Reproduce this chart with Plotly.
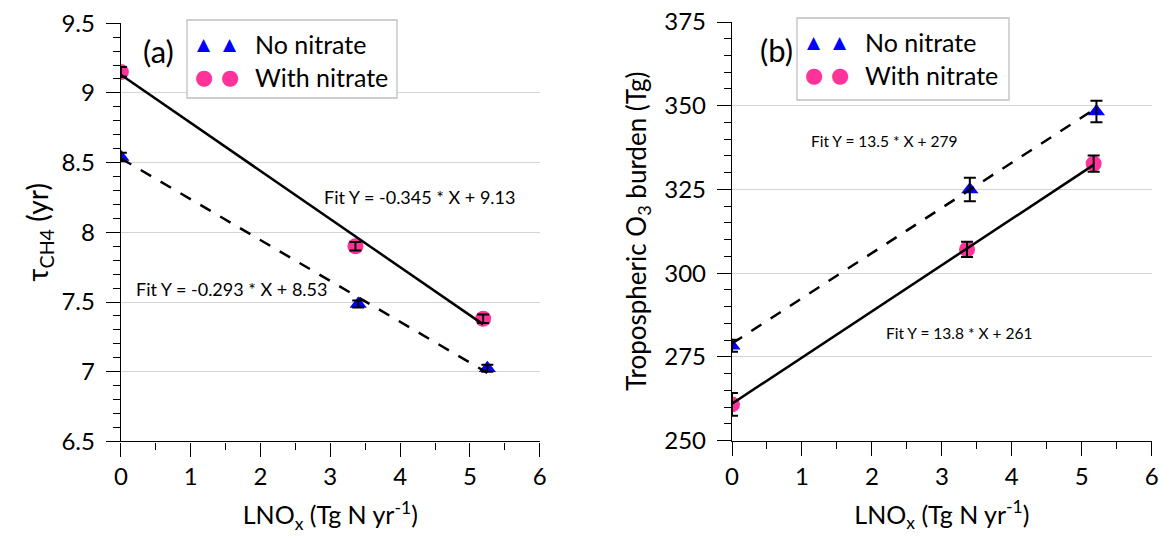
import plotly.graph_objects as go

# ---------------- data ----------------
# Panel (a): methane lifetime (yr)
x_no_a = [0.0, 3.40, 5.25]
y_no_a = [8.54, 7.486, 7.024]
err_no_a = [0.03, 0.025, 0.025]
x_with_a = [0.0, 3.36, 5.19]
y_with_a = [9.15, 7.90, 7.38]
err_with_a = [0.035, 0.03, 0.03]

# Panel (b): tropospheric O3 burden (Tg)
x_no_b = [0.0, 3.40, 5.21]
y_no_b = [278.3, 325.0, 348.3]
err_no_b = [1.8, 3.5, 3.2]
x_with_b = [0.0, 3.36, 5.17]
y_with_b = [260.8, 307.1, 332.7]
err_with_b = [3.4, 2.3, 2.4]

# linear fits (slope, intercept)
fit_a_no = (-0.293, 8.53)
fit_a_with = (-0.345, 9.13)
fit_b_no = (13.5, 279)
fit_b_with = (13.8, 261)

fit_text_a_no = "Fit Y = -0.293 * X + 8.53"
fit_text_a_with = "Fit Y = -0.345 * X + 9.13"
fit_text_b_no = "Fit Y = 13.5 * X + 279"
fit_text_b_with = "Fit Y = 13.8 * X + 261"

legend_names = ["No nitrate", "With nitrate"]

# ---------------- style ----------------
W, H = 1159, 539
BLUE = "#0000ff"
PINK = "#ff3399"
FONT = "Lato"


def px(x):
    return x / W


def py(y):
    return 1 - y / H


def fit_line(xs, fit):
    m, b = fit
    xx = [min(xs), max(xs)]
    return xx, [m * v + b for v in xx]


fig = go.Figure()


def add_points(xs, ys, color, symbol, size, xa, ya):
    fig.add_trace(go.Scatter(
        x=xs, y=ys, mode="markers", xaxis=xa, yaxis=ya, showlegend=False,
        marker=dict(color=color, symbol=symbol, size=size, line=dict(width=0)),
    ))


def add_errors(xs, ys, err, xa, ya):
    fig.add_trace(go.Scatter(
        x=xs, y=ys, mode="markers", xaxis=xa, yaxis=ya, showlegend=False,
        marker=dict(size=1, opacity=0),
        error_y=dict(type="data", array=err, color="black", thickness=2, width=6),
    ))


def add_fit(xs, fit, dash, xa, ya):
    lx, ly = fit_line(xs, fit)
    fig.add_trace(go.Scatter(
        x=lx, y=ly, mode="lines", xaxis=xa, yaxis=ya, showlegend=False,
        line=dict(color="black", width=2.5, dash=dash),
    ))


# panel (a)
add_points(x_no_a, y_no_a, BLUE, "triangle-up", 15, "x", "y")
add_points(x_with_a, y_with_a, PINK, "circle", 16, "x", "y")
add_fit(x_no_a, fit_a_no, "12px,11px", "x", "y")
add_fit(x_with_a, fit_a_with, "solid", "x", "y")
add_errors(x_no_a, y_no_a, err_no_a, "x", "y")
add_errors(x_with_a, y_with_a, err_with_a, "x", "y")

# panel (b)
add_points(x_no_b, y_no_b, BLUE, "triangle-up", 15, "x2", "y2")
add_points(x_with_b, y_with_b, PINK, "circle", 16, "x2", "y2")
add_fit(x_no_b, fit_b_no, "12px,11px", "x2", "y2")
add_fit(x_with_b, fit_b_with, "solid", "x2", "y2")
add_errors(x_no_b, y_no_b, err_no_b, "x2", "y2")
add_errors(x_with_b, y_with_b, err_with_b, "x2", "y2")

tickfont = dict(family=FONT, size=24, color="black")

xcommon = dict(range=[0, 6], dtick=1, tick0=0, ticks="outside", ticklen=14,
               tickwidth=1.3, tickcolor="black", showline=True, linecolor="black",
               linewidth=1.3, showgrid=False, zeroline=False, tickfont=tickfont,
               automargin=False,
               minor=dict(dtick=0.5, ticks="outside", ticklen=7, tickcolor="black",
                          tickwidth=1.3, showgrid=False))

ycommon = dict(ticks="outside", ticklen=14, tickwidth=1.3, tickcolor="black",
               showline=True, linecolor="black", linewidth=1.3, showgrid=True,
               gridcolor="#d4d4d4", gridwidth=1, zeroline=False, tickfont=tickfont,
               automargin=False, ticklabelstandoff=6)

xtitle = dict(text="LNO<sub>x</sub> (Tg N yr<sup>-1</sup>)",
              font=dict(family=FONT, size=25, color="black"), standoff=17)

fig.update_layout(
    width=W, height=H, margin=dict(l=0, r=0, t=0, b=0),
    paper_bgcolor="white", plot_bgcolor="white", showlegend=False,
    xaxis=dict(domain=[px(120.9), px(539.7)], anchor="y", title=xtitle, **xcommon),
    yaxis=dict(domain=[py(441.4), py(23.2)], anchor="x", range=[6.5, 9.5], dtick=0.5,
               tick0=6.5,
               minor=dict(dtick=0.1, ticks="outside", ticklen=7, tickcolor="black",
                          tickwidth=1.3, showgrid=False),
               title=dict(text="τ<sub>CH4</sub> (yr)",
                          font=dict(family=FONT, size=28, color="black"), standoff=4),
               **ycommon),
    xaxis2=dict(domain=[px(732), px(1151.7)], anchor="y2", title=xtitle, **xcommon),
    yaxis2=dict(domain=[py(440.6), py(22.0)], anchor="x2", range=[250, 375], dtick=25,
                tick0=250,
                minor=dict(dtick=5, ticks="outside", ticklen=7, tickcolor="black",
                           tickwidth=1.3, showgrid=False),
                title=dict(text="Tropospheric O<sub>3</sub> burden (Tg)",
                           font=dict(family=FONT, size=26, color="black"), standoff=10),
                **ycommon),
)

ann = []
# panel labels
ann.append(dict(text="(a)", x=0.54, y=9.3, xref="x", yref="y", showarrow=False,
                font=dict(family=FONT, size=31, color="black")))
ann.append(dict(text="(b)", x=0.63, y=366.5, xref="x2", yref="y2", showarrow=False,
                font=dict(family=FONT, size=31, color="black")))
# fit equations
fitfont_a = dict(family=FONT, size=18, color="black")
fitfont_b = dict(family=FONT, size=15.5, color="black")
ann.append(dict(text=fit_text_a_with, x=4.28, y=8.256, xref="x", yref="y",
                showarrow=False, font=fitfont_a))
ann.append(dict(text=fit_text_a_no, x=1.59, y=7.59, xref="x", yref="y",
                showarrow=False, font=fitfont_a))
ann.append(dict(text=fit_text_b_no, x=2.17, y=339.5, xref="x2", yref="y2",
                showarrow=False, font=fitfont_b))
ann.append(dict(text=fit_text_b_with, x=3.25, y=282.2, xref="x2", yref="y2",
                showarrow=False, font=fitfont_b))

# legends (Excel style, two sample symbols per entry)
shapes = []
for (bx0, bx1, by0, by1) in [(187, 397, 20, 98), (797, 1009, 18, 100)]:
    shapes.append(dict(type="rect", xref="paper", yref="paper",
                       x0=px(bx0), x1=px(bx1), y0=py(by1), y1=py(by0),
                       line=dict(color="#bfbfbf", width=1.3), fillcolor="white",
                       layer="above"))
    cy1 = by0 + 24
    cy2 = by0 + 57
    for sx in (bx0 + 17, bx0 + 43):
        ann.append(dict(text="▲", x=px(sx), y=py(cy1), xref="paper", yref="paper",
                        showarrow=False, xanchor="center", yanchor="middle",
                        font=dict(family="DejaVu Sans", size=17, color=BLUE)))
        ann.append(dict(text="●", x=px(sx), y=py(cy2), xref="paper", yref="paper",
                        showarrow=False, xanchor="center", yanchor="middle",
                        font=dict(family="DejaVu Sans", size=21, color=PINK)))
    ann.append(dict(text=legend_names[0], x=px(bx0 + 66), y=py(cy1), xref="paper",
                    yref="paper", showarrow=False, xanchor="left", yanchor="middle",
                    font=dict(family=FONT, size=25, color="black")))
    ann.append(dict(text=legend_names[1], x=px(bx0 + 66), y=py(cy2), xref="paper",
                    yref="paper", showarrow=False, xanchor="left", yanchor="middle",
                    font=dict(family=FONT, size=25, color="black")))

fig.update_layout(annotations=ann, shapes=shapes)

fig.write_html("out.html")
